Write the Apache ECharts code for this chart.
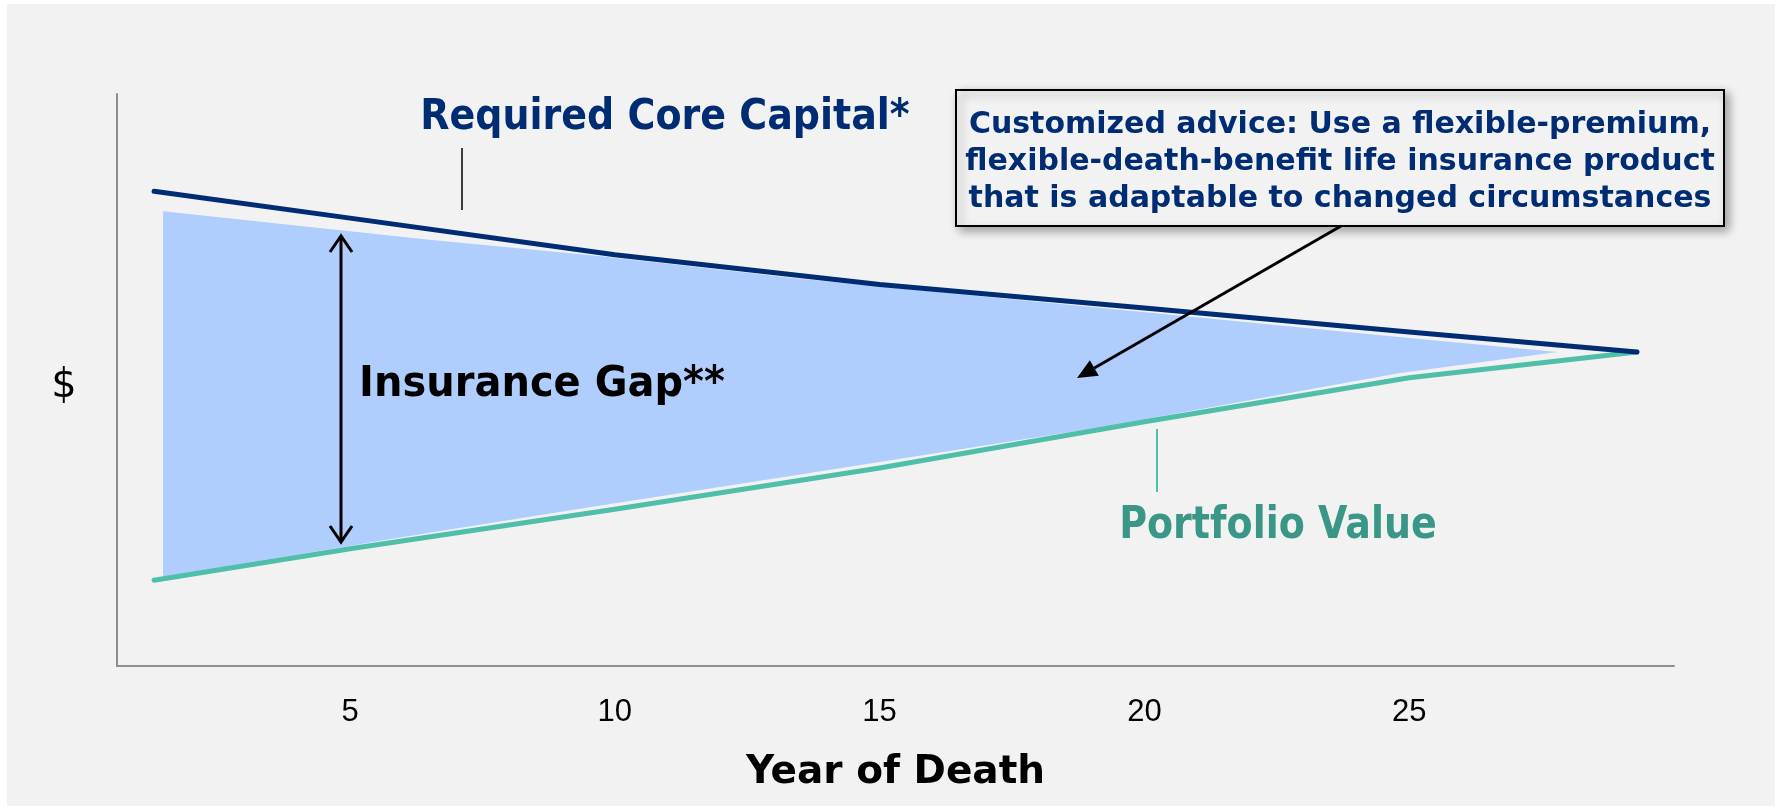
<!DOCTYPE html>
<html>
<head>
<meta charset="utf-8">
<title>Insurance Gap</title>
<script src="https://cdn.jsdelivr.net/npm/echarts@6/dist/echarts.min.js"></script>
<style>
html, body { margin: 0; padding: 0; background: #fff; }
#bg { position: absolute; left: 7px; top: 4px; width: 1768px; height: 802px; background: #f2f2f2; }
#chart { position: absolute; left: 0; top: 0; width: 1782px; height: 810px; }
</style>
</head>
<body>
<div id="bg"></div>
<div id="chart"></div>
<script>
// year of death vs $ (no scale shown, values in arbitrary units 0-100)
var years = [1.3, 5, 10, 15, 20, 25, 29.3];
var coreCapital = [83.0, 78.3, 71.9, 66.7, 62.6, 58.4, 54.9];
var portfolioValue = [15.0, 20.5, 27.4, 34.6, 42.7, 50.4, 54.9];
// shaded insurance gap
var gapYears = [1.47, 6.5, 9.7, 13.5, 19.2, 24.8, 27.8];
var gapTop = [79.5, 74.5, 71.7, 67.7, 62.6, 57.5, 54.9];
var gapBottom = [15.6, 23.3, 28.0, 33.5, 41.8, 51.2, 54.9];
var yearTicks = [5, 10, 15, 20, 25];

var navy = '#002c73';
var teal = '#4fbfa9';
var tealText = '#3a9686';
var FONT = '"DejaVu Sans", Verdana, sans-serif';
var TICKFONT = '"Liberation Sans", Arial, sans-serif';

function zip(xs, ys) {
    var out = [];
    for (var i = 0; i < xs.length; i++) {
        out.push([xs[i], ys[i]]);
    }
    return out;
}

// arrow with filled head, pixel coords (annotation only)
function arrow(x1, y1, x2, y2, headLen, headW) {
    var dx = x2 - x1, dy = y2 - y1;
    var len = Math.sqrt(dx * dx + dy * dy);
    var ux = dx / len, uy = dy / len;
    var bx = x2 - ux * headLen, by = y2 - uy * headLen;
    var nx = -uy * headW, ny = ux * headW;
    return [
        {type: 'line', shape: {x1: x1, y1: y1, x2: bx, y2: by}, style: {stroke: '#000', lineWidth: 3}, z: 100},
        {type: 'polygon', shape: {points: [[x2, y2], [bx + nx, by + ny], [bx - nx, by - ny]]}, style: {fill: '#000'}, z: 100}
    ];
}

function label(text, x, y, size, color, sy, weight) {
    return {
        type: 'text', x: x, y: y, z: 100,
        scaleY: sy || 1,
        style: {
            text: text, fill: color,
            font: (weight || 'bold') + ' ' + size + 'px ' + FONT,
            align: 'center', verticalAlign: 'middle',
            textAlign: 'center', textVerticalAlign: 'middle'
        }
    };
}

var mychart = echarts.init(document.getElementById('chart'));

var graphics = [];
// y axis title
graphics.push(label('$', 64, 387, 40, '#000', 1, 'normal'));
// leader line for Required Core Capital
graphics.push({type: 'line', shape: {x1: 462, y1: 148, x2: 462, y2: 210}, style: {stroke: '#000', lineWidth: 1.5}, z: 100});
graphics.push(label('Required Core Capital*', 665, 117.5, 38, navy, 1.12));
// leader line for Portfolio Value
graphics.push({type: 'line', shape: {x1: 1157, y1: 429, x2: 1157, y2: 492}, style: {stroke: teal, lineWidth: 2}, z: 100});
graphics.push(label('Portfolio Value', 1278, 527, 38, tealText, 1.15));
// insurance gap double arrow
graphics.push({type: 'line', shape: {x1: 341, y1: 236, x2: 341, y2: 542}, style: {stroke: '#000', lineWidth: 3}, z: 100});
graphics.push({type: 'polyline', shape: {points: [[330, 252], [341, 236], [352, 252]]}, style: {stroke: '#000', lineWidth: 3, fill: null}, z: 100});
graphics.push({type: 'polyline', shape: {points: [[330, 526], [341, 542], [352, 526]]}, style: {stroke: '#000', lineWidth: 3, fill: null}, z: 100});
graphics.push(label('Insurance Gap**', 542, 384.5, 40, '#000', 1.06));
// advice box
graphics.push({
    type: 'rect', z: 99,
    shape: {x: 956, y: 90, width: 768, height: 136},
    style: {fill: '#f2f2f2', stroke: '#000', lineWidth: 2, shadowBlur: 10, shadowOffsetX: 4, shadowOffsetY: 4, shadowColor: 'rgba(0,0,0,0.35)'}
});
graphics.push({
    type: 'text', x: 1340, y: 162, z: 100,
    style: {
        text: 'Customized advice: Use a flexible-premium,\nflexible-death-benefit life insurance product\nthat is adaptable to changed circumstances',
        fill: navy, font: 'bold 30px ' + FONT, lineHeight: 37,
        align: 'center', verticalAlign: 'middle', textAlign: 'center', textVerticalAlign: 'middle'
    }
});
graphics = graphics.concat(arrow(1341, 226, 1077, 378, 20, 9));

var option = {
    animation: false,
    grid: {left: 117, right: 108, top: 94, bottom: 144},
    xAxis: {
        type: 'value',
        min: 0.6,
        max: 30,
        name: 'Year of Death',
        nameLocation: 'middle',
        nameGap: 87,
        nameTextStyle: {color: '#000', fontSize: 39, fontWeight: 'bold', fontFamily: FONT},
        axisLine: {show: true, lineStyle: {color: '#8e8e8e', width: 2}},
        axisTick: {show: false},
        splitLine: {show: false},
        axisLabel: {
            customValues: yearTicks,
            color: '#000',
            fontSize: 31,
            fontFamily: TICKFONT,
            margin: 31
        }
    },
    yAxis: {
        type: 'value',
        min: 0,
        max: 100,
        axisLine: {show: true, lineStyle: {color: '#8e8e8e', width: 2}},
        axisTick: {show: false},
        axisLabel: {show: false},
        splitLine: {show: false}
    },
    series: [
        {
            type: 'custom',
            name: 'Insurance Gap',
            z: 1,
            silent: true,
            renderItem: function (params, api) {
                var pts = [];
                for (var i = 0; i < gapYears.length; i++) {
                    pts.push(api.coord([gapYears[i], gapTop[i]]));
                }
                for (var j = gapYears.length - 1; j >= 0; j--) {
                    pts.push(api.coord([gapYears[j], gapBottom[j]]));
                }
                return {type: 'polygon', shape: {points: pts}, style: {fill: '#afcefd'}};
            },
            data: [[gapYears[0], gapTop[0]]]
        },
        {
            type: 'line',
            name: 'Portfolio Value',
            z: 3,
            data: zip(years, portfolioValue),
            symbol: 'none',
            lineStyle: {color: teal, width: 5, cap: 'round', join: 'round'}
        },
        {
            type: 'line',
            name: 'Required Core Capital',
            z: 4,
            data: zip(years, coreCapital),
            symbol: 'none',
            lineStyle: {color: navy, width: 5, cap: 'round', join: 'round'}
        }
    ],
    graphic: graphics
};
mychart.setOption(option);
</script>
</body>
</html>
